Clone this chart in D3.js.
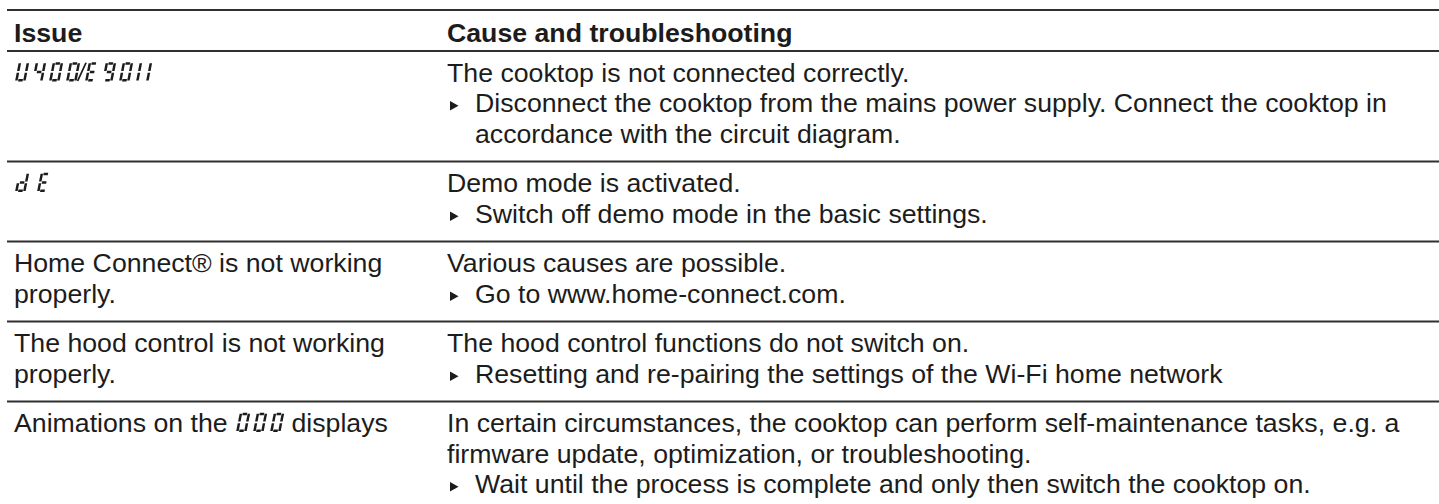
<!DOCTYPE html>
<html><head><meta charset="utf-8">
<script src="https://cdn.jsdelivr.net/npm/d3@7"></script>
<style>html,body{margin:0;padding:0;background:#fff;} svg{display:block;}</style>
</head><body><svg id="c" width="1439" height="504"></svg>
<script>
// ---- data ----
const headers = ["Issue", "Cause and troubleshooting"];
const issues = [
  "[U400/E9011]",
  "[d E]",
  "Home Connect® is not working\nproperly.",
  "The hood control is not working\nproperly.",
  "Animations on the [000] displays"
];
const causes = [
  "The cooktop is not connected correctly.",
  "Demo mode is activated.",
  "Various causes are possible.",
  "The hood control functions do not switch on.",
  "In certain circumstances, the cooktop can perform self-maintenance tasks, e.g. a\nfirmware update, optimization, or troubleshooting."
];
const remedies = [
  "Disconnect the cooktop from the mains power supply. Connect the cooktop in\naccordance with the circuit diagram.",
  "Switch off demo mode in the basic settings.",
  "Go to www.home-connect.com.",
  "Resetting and re-pairing the settings of the Wi-Fi home network",
  "Wait until the process is complete and only then switch the cooktop on."
];
// seven-segment glyph definitions (segments lit per character)
const segmentMap = {"0":"abcdef","1":"bc","4":"bcfg","9":"abcdfg","E":"adefg","U":"bcdef","d":"bcdeg"};

// ---- layout ----
const W = 1439, H = 504;
const FS = 26.7, LH = 30.5;
const FONT = "'Liberation Sans', Arial, Helvetica, sans-serif";
const TEXT = "#1c1c1c", RULE = "#303030";
const colX = d3.scaleOrdinal().domain(["issue","cause","remedy"]).range([14, 447, 475]);
const ruleX0 = 7;
const topRule = 10, headerRule = 51, headerBase = 42;
const firstBase = 30.5, bottomPad = 19;

const svg = d3.select("#c");

const rows = issues.map((iss, i) => {
  const causeLines = causes[i].split("\n");
  const remedyLines = remedies[i].split("\n");
  const issueLines = iss.split("\n");
  const n = Math.max(issueLines.length, causeLines.length + remedyLines.length);
  return {issueLines, causeLines, remedyLines, n};
});
let yCursor = headerRule;
rows.forEach(r => { r.top = yCursor; r.h = firstBase + (r.n - 1) * LH + bottomPad; yCursor += r.h; r.bottom = yCursor; });
const lineY = d3.scaleLinear().domain([0, 1]).range([0, LH]);

// rules
const rules = [{y: topRule, w: 2.2}, {y: headerRule, w: 2}].concat(rows.slice(0, -1).map(r => ({y: r.bottom, w: 1.9})));
svg.selectAll("line.rule").data(rules).join("line").attr("class","rule")
  .attr("x1", ruleX0).attr("x2", W).attr("y1", d => d.y).attr("y2", d => d.y)
  .attr("stroke", RULE).attr("stroke-width", d => d.w);

// headers
svg.selectAll("text.hdr").data(headers).join("text").attr("class","hdr")
  .attr("x", (d, i) => colX(i === 0 ? "issue" : "cause")).attr("y", headerBase)
  .attr("font-family", FONT).attr("font-size", FS).attr("font-weight", "bold").attr("fill", TEXT)
  .text(d => d);

// seven segment drawing
const SEG_H = 19.2, SEG_W = 10.5, SEG_T = 2.5, SEG_GAP = 0.9, SKEW = 11;
function drawSeg(g, str, x0, base) {
  let x = x0;
  const grp = g.append("g");
  grp.append("title").text(str.replace(/ /g, ""));
  for (const ch of str) {
    if (ch === " ") { x += 5; continue; }
    const cg = grp.append("g").attr("transform", `translate(${x},${base}) skewX(${-SKEW})`);
    if (ch === "/") {
      cg.append("line").attr("x1", -5.5).attr("y1", -0.5).attr("x2", -0.6).attr("y2", -SEG_H + 0.5)
        .attr("stroke", TEXT).attr("stroke-width", 1.8);
      x += 2; continue;
    }
    const segs = segmentMap[ch] || "";
    const t = SEG_T, w = SEG_W, h = SEG_H, g2 = SEG_GAP;
    const uR = ch === "1" ? t / 2 : w - t / 2;
    const defs = {
      a: [t + g2 - 0.4, h - t/2, w - t - g2 + 0.4, h - t/2],
      g: [t + g2 - 0.4, h/2, w - t - g2 + 0.4, h/2],
      d: [t + g2 - 0.4, t/2, w - t - g2 + 0.4, t/2],
      f: [t/2, h/2 + g2, t/2, h - g2],
      e: [t/2, g2, t/2, h/2 - g2],
      b: [uR, h/2 + g2, uR, h - g2],
      c: [uR, g2, uR, h/2 - g2]
    };
    cg.selectAll("line").data(segs.split("")).join("line")
      .attr("x1", s => defs[s][0]).attr("y1", s => -defs[s][1])
      .attr("x2", s => defs[s][2]).attr("y2", s => -defs[s][3])
      .attr("stroke", TEXT).attr("stroke-width", t).attr("stroke-linecap", "butt");
    x += (ch === "1") ? 10 : 17;
  }
  return x - x0;
}
function segWidth(str) {
  let w = 0;
  for (const ch of str) w += ch === " " ? 5 : ch === "/" ? 2 : ch === "1" ? 10 : 17;
  return w;
}

// text helper with inline segment glyphs [..]
function drawRich(g, line, x, y) {
  const parts = line.split(/(\[[^\]]*\])/).filter(p => p.length);
  let cx = x;
  parts.forEach(p => {
    if (p[0] === "[") {
      const s = p.slice(1, -1);
      drawSeg(g, s, cx + 1, y);
      cx += segWidth(s) - 2;
    } else {
      const t = g.append("text").attr("x", cx).attr("y", y)
        .attr("font-family", FONT).attr("font-size", FS).attr("fill", TEXT)
        .attr("xml:space", "preserve").style("white-space", "pre").text(p);
      cx += t.node().getComputedTextLength();
    }
  });
}

// rows
const rowG = svg.selectAll("g.row").data(rows).join("g").attr("class", "row");
rowG.each(function(r) {
  const g = d3.select(this);
  const b0 = r.top + firstBase;
  r.issueLines.forEach((ln, k) => drawRich(g, ln, colX("issue"), b0 + lineY(k)));
  r.causeLines.forEach((ln, k) => {
    g.append("text").attr("x", colX("cause")).attr("y", b0 + lineY(k))
      .attr("font-family", FONT).attr("font-size", FS).attr("fill", TEXT).text(ln);
  });
  const rb = b0 + lineY(r.causeLines.length);
  const bx = colX("cause") + 3;
  g.append("path")
    .attr("d", d3.line()([[bx, rb - 11], [bx, rb - 1.5], [bx + 8.5, rb - 6.25]]) + "Z")
    .attr("fill", TEXT);
  r.remedyLines.forEach((ln, k) => {
    g.append("text").attr("x", colX("remedy")).attr("y", rb + lineY(k))
      .attr("font-family", FONT).attr("font-size", FS).attr("fill", TEXT).text(ln);
  });
});
</script></body></html>
